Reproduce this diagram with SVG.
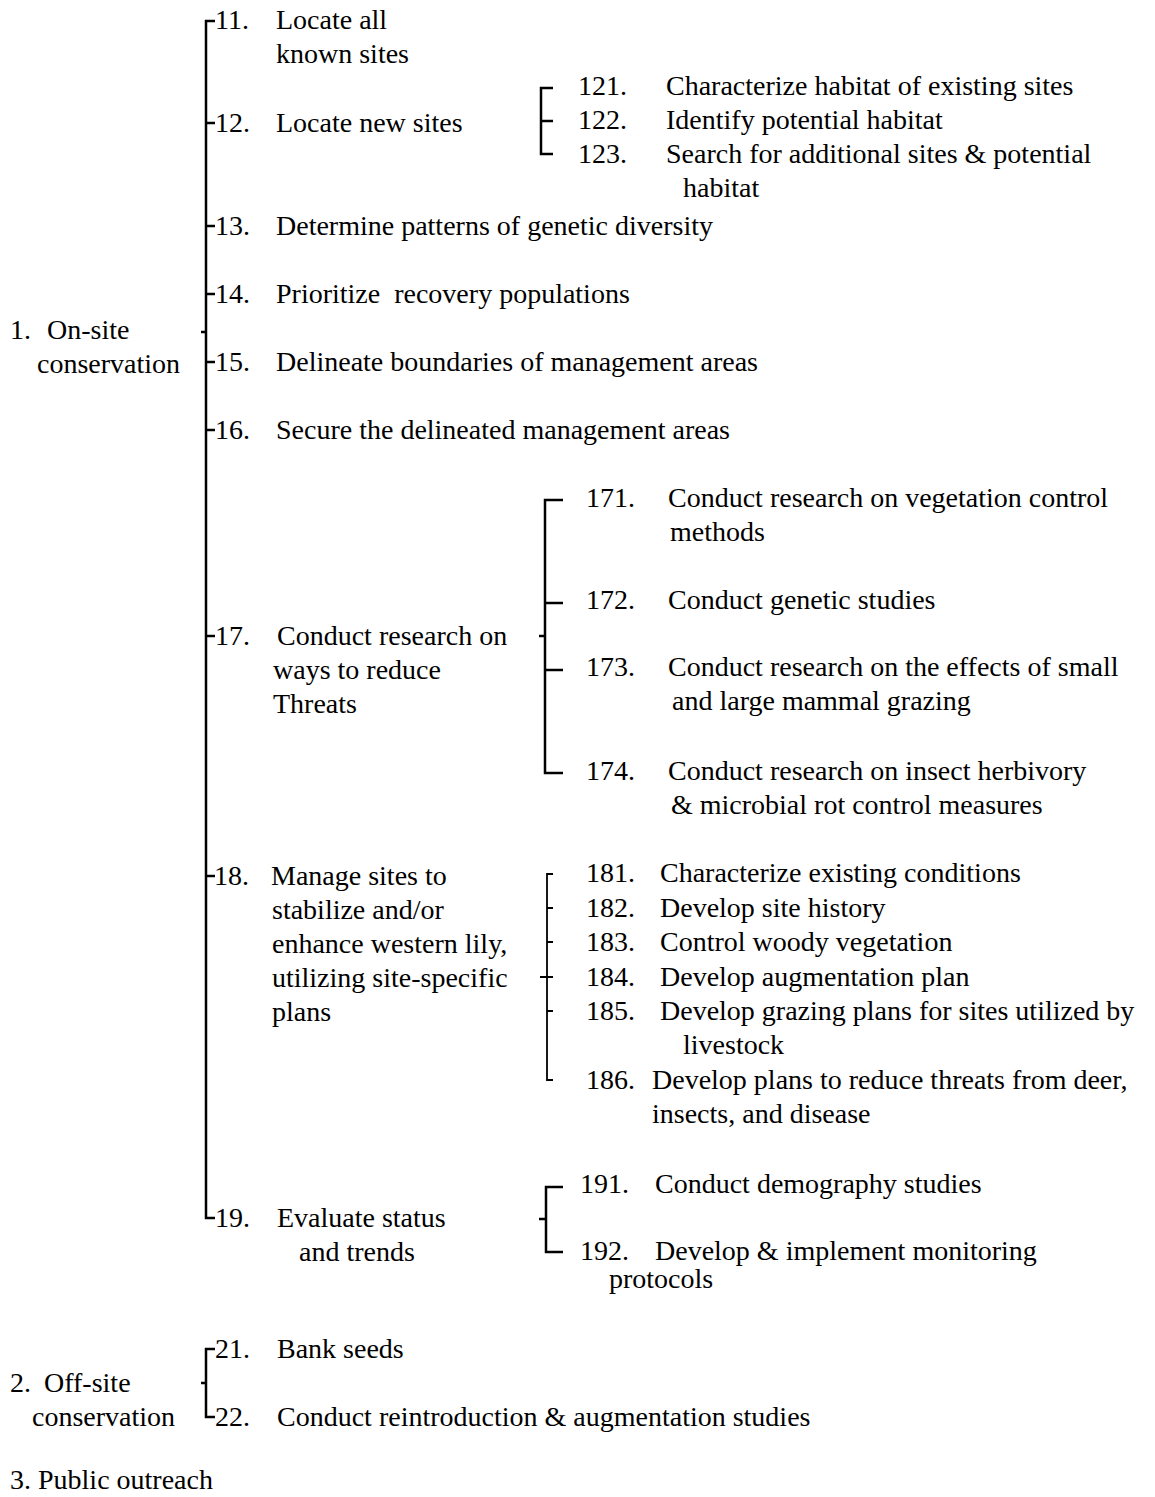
<svg xmlns="http://www.w3.org/2000/svg" width="1155" height="1497" viewBox="0 0 1155 1497">
<style>
text{font-family:"Liberation Serif","Times New Roman",serif;font-size:28px;fill:#000}
.br{fill:none;stroke:#000;stroke-width:2.5}
.bt{fill:none;stroke:#000;stroke-width:1.8}
</style>
<rect width="1155" height="1497" fill="#fff"/>
<g id="connectors">
<path class="br" d="M215,21 H206 V1218 H215 M206,123 H215 M206,226 H215 M206,294 H215 M206,362 H215 M206,430 H215 M206,636 H215 M206,876 H215 M201,332 H206"/>
<path class="br" d="M553,88 H541 V154 H553 M541,121 H553"/>
<path class="br" d="M563,500 H545 V773 H563 M545,603 H563 M545,670 H563 M539,636 H545"/>
<path class="bt" d="M553,874 H547 V1080 H553 M547,908 H553 M547,942 H553 M547,977 H553 M547,1011 H553 M540,977 H547"/>
<path class="br" d="M563,1187 H546 V1252 H563 M539,1219 H546"/>
<path class="br" d="M215,1349 H206 V1417 H215 M201,1383 H206"/>
</g>
<g id="n1"><text x="10" y="339">1.</text><text x="47" y="339">On-site</text><text x="37" y="373">conservation</text></g>
<g id="n11"><text x="215" y="29">11.</text><text x="276" y="29">Locate all</text><text x="276" y="63">known sites</text></g>
<g id="n12"><text x="215" y="132">12.</text><text x="276" y="132">Locate new sites</text></g>
<g id="n121"><text x="578" y="95">121.</text><text x="666" y="95">Characterize habitat of existing sites</text></g>
<g id="n122"><text x="578" y="129">122.</text><text x="666" y="129">Identify potential habitat</text></g>
<g id="n123"><text x="578" y="163">123.</text><text x="666" y="163">Search for additional sites &amp; potential</text><text x="683" y="197">habitat</text></g>
<g id="n13"><text x="215" y="235">13.</text><text x="276" y="235">Determine patterns of genetic diversity</text></g>
<g id="n14"><text x="215" y="303">14.</text><text x="276" y="303" xml:space="preserve">Prioritize  recovery populations</text></g>
<g id="n15"><text x="215" y="371">15.</text><text x="276" y="371">Delineate boundaries of management areas</text></g>
<g id="n16"><text x="215" y="439">16.</text><text x="276" y="439">Secure the delineated management areas</text></g>
<g id="n17"><text x="215" y="645">17.</text><text x="277" y="645">Conduct research on</text><text x="273" y="679">ways to reduce</text><text x="273" y="713">Threats</text></g>
<g id="n171"><text x="586" y="507">171.</text><text x="668" y="507">Conduct research on vegetation control</text><text x="670" y="541">methods</text></g>
<g id="n172"><text x="586" y="609">172.</text><text x="668" y="609">Conduct genetic studies</text></g>
<g id="n173"><text x="586" y="676">173.</text><text x="668" y="676">Conduct research on the effects of small</text><text x="672" y="710">and large mammal grazing</text></g>
<g id="n174"><text x="586" y="780">174.</text><text x="668" y="780">Conduct research on insect herbivory</text><text x="671" y="814">&amp; microbial rot control measures</text></g>
<g id="n18"><text x="214" y="885">18.</text><text x="271" y="885">Manage sites to</text><text x="272" y="919">stabilize and/or</text><text x="272" y="953">enhance western lily,</text><text x="272" y="987">utilizing site-specific</text><text x="272" y="1021">plans</text></g>
<g id="n181"><text x="586" y="882">181.</text><text x="660" y="882">Characterize existing conditions</text></g>
<g id="n182"><text x="586" y="917">182.</text><text x="660" y="917">Develop site history</text></g>
<g id="n183"><text x="586" y="951">183.</text><text x="660" y="951">Control woody vegetation</text></g>
<g id="n184"><text x="586" y="986">184.</text><text x="660" y="986">Develop augmentation plan</text></g>
<g id="n185"><text x="586" y="1020">185.</text><text x="660" y="1020">Develop grazing plans for sites utilized by</text><text x="683" y="1054">livestock</text></g>
<g id="n186"><text x="586" y="1089">186.</text><text x="652" y="1089">Develop plans to reduce threats from deer,</text><text x="652" y="1123">insects, and disease</text></g>
<g id="n19"><text x="215" y="1227">19.</text><text x="277" y="1227">Evaluate status</text><text x="299" y="1261">and trends</text></g>
<g id="n191"><text x="580" y="1193">191.</text><text x="655" y="1193">Conduct demography studies</text></g>
<g id="n192"><text x="580" y="1260">192.</text><text x="655" y="1260">Develop &amp; implement monitoring</text><text x="609" y="1288">protocols</text></g>
<g id="n2"><text x="10" y="1392">2.</text><text x="44" y="1392">Off-site</text><text x="32" y="1426">conservation</text></g>
<g id="n21"><text x="215" y="1358">21.</text><text x="277" y="1358">Bank seeds</text></g>
<g id="n22"><text x="215" y="1426">22.</text><text x="277" y="1426">Conduct reintroduction &amp; augmentation studies</text></g>
<g id="n3"><text x="10" y="1489">3.</text><text x="38" y="1489">Public outreach</text></g>
</svg>
